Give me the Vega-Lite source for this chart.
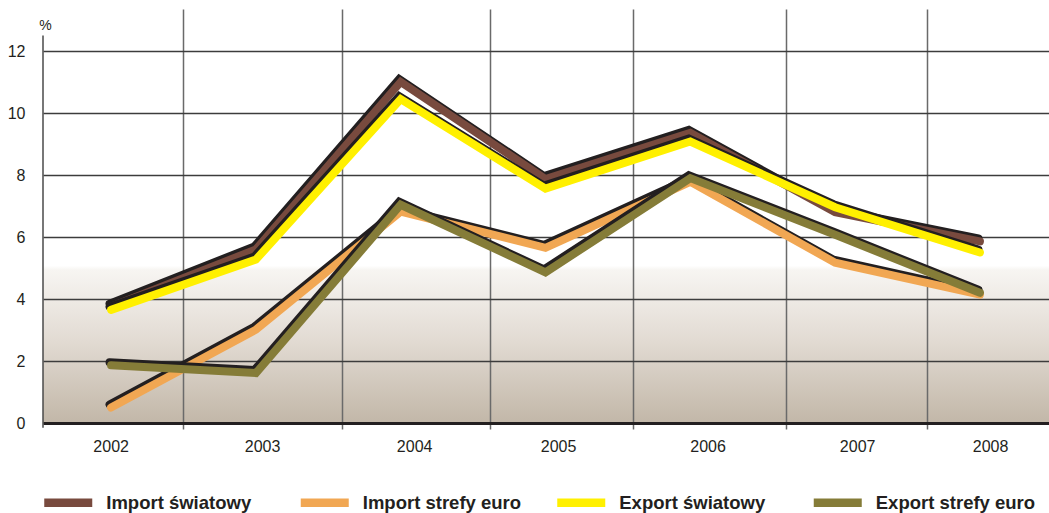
{
  "$schema": "https://vega.github.io/schema/vega-lite/v6.json",
  "width": 1006,
  "height": 414,
  "autosize": "none",
  "padding": {"left": 43, "top": 9, "right": 0, "bottom": 90},
  "background": "#ffffff",
  "config": {
    "font": "Liberation Sans, Arial, sans-serif",
    "view": {
      "stroke": null,
      "fill": {
        "gradient": "linear",
        "x1": 0, "y1": 0, "x2": 0, "y2": 1,
        "stops": [
          {"offset": 0, "color": "#ffffff"},
          {"offset": 0.62, "color": "#ffffff"},
          {"offset": 0.63, "color": "#f7f5f2"},
          {"offset": 0.8, "color": "#e2dbd3"},
          {"offset": 1, "color": "#c2b7a8"}
        ]
      }
    },
    "legend": {
      "orient": "none",
      "legendX": -3.25,
      "legendY": 465,
      "direction": "horizontal",
      "columns": 4,
      "gridAlign": "all",
      "columnPadding": 17.5,
      "padding": 0,
      "title": null,
      "symbolType": "M-1,0H1",
      "symbolSize": 2304,
      "symbolStrokeWidth": 8.5,
      "symbolOpacity": 1,
      "labelFont": "Liberation Sans, Arial, sans-serif",
      "labelFontSize": 18.5,
      "labelFontWeight": "bold",
      "labelColor": "#231f20",
      "labelOffset": 9.5,
      "labelLimit": 300
    }
  },
  "data": {
    "values": [
      {"year": 2002, "series": "Import światowy", "value": 3.75},
      {"year": 2003, "series": "Import światowy", "value": 5.6},
      {"year": 2004, "series": "Import światowy", "value": 11.0},
      {"year": 2005, "series": "Import światowy", "value": 7.87},
      {"year": 2006, "series": "Import światowy", "value": 9.36},
      {"year": 2007, "series": "Import światowy", "value": 6.8},
      {"year": 2008, "series": "Import światowy", "value": 5.86},
      {"year": 2002, "series": "Import strefy euro", "value": 0.5},
      {"year": 2003, "series": "Import strefy euro", "value": 3.01},
      {"year": 2004, "series": "Import strefy euro", "value": 6.82},
      {"year": 2005, "series": "Import strefy euro", "value": 5.65},
      {"year": 2006, "series": "Import strefy euro", "value": 7.78},
      {"year": 2007, "series": "Import strefy euro", "value": 5.17},
      {"year": 2008, "series": "Import strefy euro", "value": 4.14},
      {"year": 2002, "series": "Export światowy", "value": 3.65},
      {"year": 2003, "series": "Export światowy", "value": 5.27},
      {"year": 2004, "series": "Export światowy", "value": 10.45},
      {"year": 2005, "series": "Export światowy", "value": 7.56},
      {"year": 2006, "series": "Export światowy", "value": 9.08},
      {"year": 2007, "series": "Export światowy", "value": 6.96},
      {"year": 2008, "series": "Export światowy", "value": 5.5},
      {"year": 2002, "series": "Export strefy euro", "value": 1.86},
      {"year": 2003, "series": "Export strefy euro", "value": 1.61},
      {"year": 2004, "series": "Export strefy euro", "value": 7.04},
      {"year": 2005, "series": "Export strefy euro", "value": 4.86},
      {"year": 2006, "series": "Export strefy euro", "value": 7.9},
      {"year": 2007, "series": "Export strefy euro", "value": 6.07},
      {"year": 2008, "series": "Export strefy euro", "value": 4.2}
    ]
  },
  "layer": [
    {
      "data": {"values": [{}]},
      "mark": {"type": "rule", "color": "#4a4a4a", "strokeWidth": 1.5},
      "encoding": {
        "x": {
          "datum": 2001.53,
          "type": "quantitative",
          "scale": {"domain": [2001.53, 2008.477], "nice": false, "zero": false},
          "axis": {
            "orient": "bottom",
            "values": [2002.497, 2003.595, 2004.617, 2005.605, 2006.662, 2007.635],
            "grid": true,
            "gridColor": "#6a6a6a",
            "gridWidth": 1.5,
            "gridOpacity": 1,
            "ticks": true,
            "tickSize": 6,
            "tickColor": "#6a6a6a",
            "tickWidth": 1.5,
            "labels": false,
            "domain": true,
            "domainColor": "#231f20",
            "domainWidth": 3,
            "title": null
          }
        },
        "y": {
          "datum": -0.15,
          "type": "quantitative",
          "scale": {"domain": [0, 13.355], "nice": false, "zero": true},
          "title": "%",
          "axis": {
            "values": [0, 2, 4, 6, 8, 10, 12],
            "grid": true,
            "gridColor": "#3c3c3c",
            "gridWidth": 1.3,
            "gridOpacity": 1,
            "domain": false,
            "ticks": false,
            "tickSize": 0,
            "labelPadding": 18,
            "labelFontSize": 16,
            "labelColor": "#231f20",
            "title": "%",
            "titleAngle": 0,
            "titleAlign": "center",
            "titleBaseline": "alphabetic",
            "titleX": 2,
            "titleY": 20,
            "titleFontSize": 14,
            "titleFontWeight": "normal",
            "titleColor": "#231f20"
          }
        },
        "y2": {"datum": 12.5}
      }
    },
    {
      "transform": [{"filter": "datum.series === 'Import światowy'"}],
      "mark": {"type": "line", "color": "#231f20", "strokeWidth": 8, "strokeCap": "round", "xOffset": -1.5, "yOffset": -3},
      "encoding": {
        "x": {"field": "year", "type": "quantitative", "axis": null},
        "y": {"field": "value", "type": "quantitative", "title": "%"}
      }
    },
    {
      "transform": [{"filter": "datum.series === 'Import światowy'"}],
      "mark": {"type": "line", "strokeWidth": 8, "strokeCap": "round"},
      "encoding": {
        "x": {
          "field": "year",
          "type": "quantitative",
          "axis": {
            "orient": "bottom",
            "values": [2001.997, 2003.043, 2004.093, 2005.087, 2006.119, 2007.152, 2008.07],
            "labelExpr": "'' + round(datum.value)",
            "grid": false,
            "ticks": false,
            "tickSize": 0,
            "domain": false,
            "labelPadding": 15,
            "labelFontSize": 16,
            "labelColor": "#231f20",
            "labelFlush": false,
            "labelOverlap": false,
            "title": null
          }
        },
        "y": {"field": "value", "type": "quantitative", "title": "%"},
        "color": {
          "field": "series",
          "type": "nominal",
          "scale": {
            "domain": ["Import światowy", "Import strefy euro", "Export światowy", "Export strefy euro"],
            "range": ["#784a3e", "#f1a753", "#fff000", "#857c38"]
          }
        }
      }
    },
    {
      "transform": [{"filter": "datum.series === 'Import strefy euro'"}],
      "mark": {"type": "line", "color": "#231f20", "strokeWidth": 8, "strokeCap": "round", "xOffset": -1.5, "yOffset": -3},
      "encoding": {
        "x": {"field": "year", "type": "quantitative", "axis": null},
        "y": {"field": "value", "type": "quantitative", "title": "%"}
      }
    },
    {
      "transform": [{"filter": "datum.series === 'Import strefy euro'"}],
      "mark": {"type": "line", "strokeWidth": 8, "strokeCap": "round"},
      "encoding": {
        "x": {"field": "year", "type": "quantitative", "axis": null},
        "y": {"field": "value", "type": "quantitative", "title": "%"},
        "color": {"field": "series", "type": "nominal"}
      }
    },
    {
      "transform": [{"filter": "datum.series === 'Export światowy'"}],
      "mark": {"type": "line", "color": "#231f20", "strokeWidth": 8, "strokeCap": "round", "xOffset": -1.5, "yOffset": -3},
      "encoding": {
        "x": {"field": "year", "type": "quantitative", "axis": null},
        "y": {"field": "value", "type": "quantitative", "title": "%"}
      }
    },
    {
      "transform": [{"filter": "datum.series === 'Export światowy'"}],
      "mark": {"type": "line", "strokeWidth": 8, "strokeCap": "round"},
      "encoding": {
        "x": {"field": "year", "type": "quantitative", "axis": null},
        "y": {"field": "value", "type": "quantitative", "title": "%"},
        "color": {"field": "series", "type": "nominal"}
      }
    },
    {
      "transform": [{"filter": "datum.series === 'Export strefy euro'"}],
      "mark": {"type": "line", "color": "#231f20", "strokeWidth": 8, "strokeCap": "round", "xOffset": -1.5, "yOffset": -3},
      "encoding": {
        "x": {"field": "year", "type": "quantitative", "axis": null},
        "y": {"field": "value", "type": "quantitative", "title": "%"}
      }
    },
    {
      "transform": [{"filter": "datum.series === 'Export strefy euro'"}],
      "mark": {"type": "line", "strokeWidth": 8, "strokeCap": "round"},
      "encoding": {
        "x": {"field": "year", "type": "quantitative", "axis": null},
        "y": {"field": "value", "type": "quantitative", "title": "%"},
        "color": {"field": "series", "type": "nominal"}
      }
    }
  ],
  "resolve": {"axis": {"x": "independent"}}
}
